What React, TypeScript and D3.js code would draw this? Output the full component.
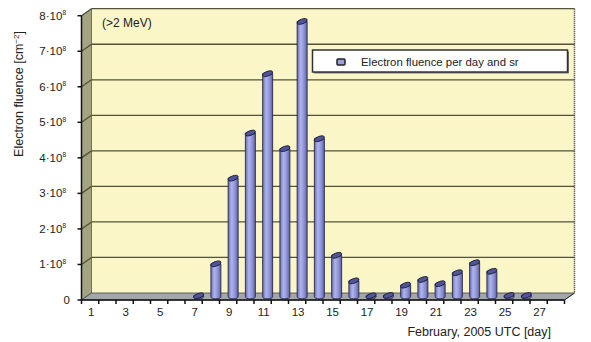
import React from "react";
import * as d3 from "d3";

// Daily electron fluence (>2 MeV), units of 1e8 cm^-2 per day and sr
const days: number[] = d3.range(1, 29);
const fluence: (number | null)[] = [
  null, null, null, null, null, null, 0.02, 0.92, 3.33, 4.6,
  6.27, 4.16, 7.74, 4.44, 1.16, 0.44, 0.02, 0.03, 0.32, 0.48,
  0.36, 0.67, 0.95, 0.71, 0.03, 0.03, null, null,
];
const yTicks: number[] = [0, 1, 2, 3, 4, 5, 6, 7, 8];
const xTickLabels: number[] = [1, 3, 5, 7, 9, 11, 13, 15, 17, 19, 21, 23, 25, 27];

const W = 591;
const H = 342;
const FONT = "Liberation Sans, Arial, sans-serif";

// oblique depth of the 3D box
const DX = 10;
const DY = -7;

export default function App() {
  const x = d3.scaleBand<number>().domain(days).range([81.5, 564.5]).padding(0);
  const y = d3.scaleLinear().domain([0, 8]).range([300, 15.7]);
  const x0 = x.range()[0];
  const x1 = x.range()[1];
  const y0 = y(0);
  const yTop = y(8);
  const bw = x.bandwidth();
  const r = 5; // cylinder radius

  const gridColor = "#52523a";

  return (
    <svg
      width={W}
      height={H}
      style={{ position: "absolute", left: 0, top: 0, background: "#fff" }}
      fontFamily={FONT}
    >
      <defs>
        <linearGradient id="cyl" x1="0" x2="1" y1="0" y2="0">
          <stop offset="0" stopColor="#676cb2" />
          <stop offset="0.35" stopColor="#b0b4ec" />
          <stop offset="0.7" stopColor="#8c91d6" />
          <stop offset="1" stopColor="#5a5fa2" />
        </linearGradient>
      </defs>

      {/* back wall */}
      <rect
        x={x0 + DX}
        y={yTop + DY}
        width={x1 - x0}
        height={y0 - yTop}
        fill="#faf6c8"
      />
      {/* side wall */}
      <path
        d={`M${x0},${yTop} L${x0 + DX},${yTop + DY} L${x0 + DX},${y0 + DY} L${x0},${y0} Z`}
        fill="#a4a383"
        stroke="#555"
        strokeWidth={0.8}
      />
      {/* floor */}
      <path
        d={`M${x0},${y0} L${x0 + DX},${y0 + DY} L${x1 + DX},${y0 + DY} L${x1},${y0} Z`}
        fill="#a4a7aa"
        stroke="#444"
        strokeWidth={0.8}
      />

      {/* gridlines on walls */}
      {yTicks.filter((t) => t > 0).map((t) => (
        <g key={`g${t}`} stroke={gridColor} strokeWidth={1.3} fill="none">
          <line x1={x0} y1={y(t)} x2={x0 + DX} y2={y(t) + DY} />
          <line x1={x0 + DX} y1={y(t) + DY} x2={x1 + DX} y2={y(t) + DY} />
        </g>
      ))}
      {/* right edge of back wall */}
      <line
        x1={x1 + DX}
        y1={yTop + DY}
        x2={x1 + DX}
        y2={y0 + DY}
        stroke="#333"
        strokeWidth={1.5}
        strokeDasharray="1 1"
      />
      <line x1={x1} y1={y0} x2={x1 + DX} y2={y0 + DY} stroke="#333" strokeWidth={1} />

      {/* cylinders */}
      {days.map((d, i) => {
        const v = fluence[i];
        if (v == null) return null;
        const cx = (x(d) as number) + bw / 2 + DX / 2;
        const by = y(0) + DY / 2;
        const ty = y(v) + DY / 2;
        return (
          <g key={`b${d}`}>
            <path
              d={`M${cx - r},${ty} L${cx - r},${by} A${r},2.3 0 0 0 ${cx + r},${by} L${cx + r},${ty} Z`}
              fill="url(#cyl)"
              stroke="#2a2a48"
              strokeWidth={0.9}
            />
            <ellipse
              cx={cx}
              cy={ty}
              rx={r + 0.3}
              ry={2.3}
              transform={`rotate(-18 ${cx} ${ty})`}
              fill="#50559a"
              stroke="#1f1f3a"
              strokeWidth={0.9}
            />
          </g>
        );
      })}

      {/* axes */}
      <line x1={x0} y1={yTop} x2={x0} y2={y0} stroke="#111" strokeWidth={1.5} />
      <line x1={x0} y1={y0} x2={x1} y2={y0} stroke="#111" strokeWidth={1.5} />
      {yTicks.map((t) => (
        <g key={`yt${t}`}>
          <line x1={x0 - 4} y1={y(t)} x2={x0} y2={y(t)} stroke="#111" strokeWidth={1.5} />
          <text
            x={t === 0 ? 70 : 66}
            y={y(t)}
            dy="0.35em"
            textAnchor="end"
            fontSize={11.5}
            fill="#222"
          >
            {t === 0 ? "0" : `${t}\u00b710`}
            {t !== 0 && (
              <tspan fontSize={6.5} dy="-4.5">
                8
              </tspan>
            )}
          </text>
        </g>
      ))}
      {d3.range(0, 29).map((k) => (
        <line
          key={`xt${k}`}
          x1={x0 + k * bw}
          y1={y0}
          x2={x0 + k * bw}
          y2={y0 + 4}
          stroke="#111"
          strokeWidth={1.5}
        />
      ))}
      {xTickLabels.map((d) => (
        <text
          key={`xl${d}`}
          x={(x(d) as number) + bw / 2 + 1}
          y={312}
          dy="0.35em"
          textAnchor="middle"
          fontSize={11.5}
          fill="#222"
        >
          {d}
        </text>
      ))}

      {/* axis titles */}
      <text
        transform={`translate(23,94) rotate(-90)`}
        textAnchor="middle"
        fontSize={12.5}
        fill="#222"
      >
        Electron fluence [cm
        <tspan fontSize={8} dy="-4.5">
          −2
        </tspan>
        <tspan dy="4.5">]</tspan>
      </text>
      <text x={551} y={332} dy="0.35em" textAnchor="end" fontSize={12.5} fill="#222">
        February, 2005 UTC [day]
      </text>

      {/* energy note */}
      <text x={102} y={27} fontSize={12} fill="#222">
        (&gt;2 MeV)
      </text>

      {/* legend */}
      <rect x={314} y={51.5} width={255} height={22} fill="#777" />
      <rect x={312.5} y={50} width={255} height={22} fill="#fff" stroke="#333" strokeWidth={1.5} />
      <rect
        x={337}
        y={59}
        width={8}
        height={6}
        rx={1}
        fill="#9aa0e0"
        stroke="#222"
        strokeWidth={1.5}
      />
      <text x={361} y={62} dy="0.35em" fontSize={11.4} fill="#222">
        Electron fluence per day and sr
      </text>
    </svg>
  );
}
